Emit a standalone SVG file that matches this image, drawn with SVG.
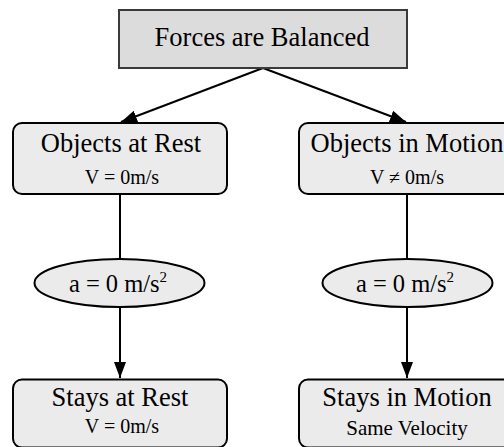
<svg xmlns="http://www.w3.org/2000/svg" width="504" height="447" viewBox="0 0 504 447">
<style>
text{font-family:"Liberation Serif","Times New Roman",serif;fill:#000;text-anchor:middle}
.box{fill:#ebebeb;stroke:#000;stroke-width:2}
.top{fill:#dcdcdc;stroke:#3a3a3a;stroke-width:2}
.ell{fill:#ebebeb;stroke:#000;stroke-width:2}
.big{font-size:26.5px}
.sm{font-size:20px}
.mid{font-size:24.5px}
.sup{font-size:15px}
.conn{stroke:#000;stroke-width:2;fill:none}
</style>
<defs>
<marker id="ah" viewBox="0 0 16 12" refX="16" refY="6" markerWidth="16" markerHeight="12" orient="auto" markerUnits="userSpaceOnUse">
<path d="M0,0 L16,6 L0,12 Z" fill="#000"/>
</marker>
</defs>
<g id="connectors">
<line class="conn" x1="263" y1="68" x2="121" y2="122" marker-end="url(#ah)"/>
<line class="conn" x1="263" y1="68" x2="406" y2="122" marker-end="url(#ah)"/>
<line class="conn" x1="120" y1="194" x2="120" y2="259"/>
<line class="conn" x1="120" y1="307" x2="120" y2="378" marker-end="url(#ah)"/>
<line class="conn" x1="407" y1="194" x2="407" y2="259"/>
<line class="conn" x1="407" y1="307" x2="407" y2="378" marker-end="url(#ah)"/>
</g>
<g id="balanced">
<rect class="top" x="119" y="10" width="288" height="58"/>
<text class="big" x="262" y="46">Forces are Balanced</text>
</g>
<g id="rest">
<rect class="box" x="13" y="123" width="214" height="71" rx="9"/>
<text class="big" x="121" y="152">Objects at Rest</text>
<text class="sm" x="122" y="184">V = 0m/s</text>
</g>
<g id="motion">
<rect class="box" x="299" y="123" width="214" height="71" rx="9"/>
<text class="big" x="407" y="152">Objects in Motion</text>
<text class="sm" x="407" y="184">V ≠ 0m/s</text>
</g>
<g id="accel-left">
<ellipse class="ell" cx="119.5" cy="283" rx="85" ry="24"/>
<text class="mid" x="118" y="291.5">a = 0 m/s<tspan class="sup" dy="-10">2</tspan></text>
</g>
<g id="accel-right">
<ellipse class="ell" cx="407.5" cy="283" rx="85" ry="24"/>
<text class="mid" x="405" y="291.5">a = 0 m/s<tspan class="sup" dy="-10">2</tspan></text>
</g>
<g id="stays-rest">
<rect class="box" x="13" y="379.5" width="214" height="68" rx="9"/>
<text class="big" x="120" y="406">Stays at Rest</text>
<text class="sm" x="122" y="433">V = 0m/s</text>
</g>
<g id="stays-motion">
<rect class="box" x="299" y="379.5" width="214" height="68" rx="9"/>
<text class="big" x="407" y="406">Stays in Motion</text>
<text x="407" y="435" style="font-size:21px">Same Velocity</text>
</g>
</svg>
